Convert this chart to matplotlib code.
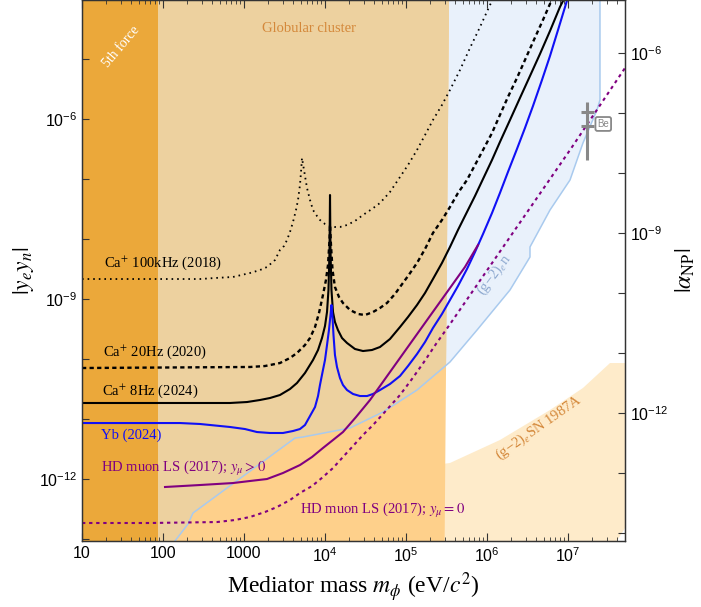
import numpy as np
import matplotlib
matplotlib.use("Agg")
import matplotlib.pyplot as plt
from matplotlib.patches import Polygon
from matplotlib.ticker import FixedLocator, FuncFormatter, NullFormatter, LogLocator

plt.rcParams['font.family'] = ['Liberation Sans', 'DejaVu Sans']
plt.rcParams['mathtext.fontset'] = 'stix'

# axis ranges (log10)
logm_lim = [1.0, 7.704]
logy_lim = [-13.033, -4.017]

# Ca+ 100kHz (2018), dotted
ca100_logm = [1.0, 2.457, 2.642, 2.864, 3.074, 3.198, 3.284, 3.383, 3.444, 3.494, 3.531, 3.568, 3.605,
              3.642, 3.667, 3.691, 3.704, 3.716, 3.741, 3.778, 3.815, 3.852, 3.901, 3.938, 4.0, 4.062,
              4.123, 4.185, 4.272, 4.370, 4.469, 4.580, 4.679, 4.802, 4.926, 5.025, 5.136, 5.235, 5.333,
              5.444, 5.543, 5.667, 5.790, 5.914, 6.037, 6.099]
ca100_logy = [-8.667, -8.667, -8.65, -8.633, -8.567, -8.517, -8.467, -8.35, -8.183, -8.117, -8.017, -7.883,
              -7.717, -7.517, -7.35, -7.1, -6.883, -6.65, -6.85, -7.15, -7.35, -7.517, -7.617, -7.683,
              -7.75, -7.783, -7.8, -7.8, -7.767, -7.7, -7.6, -7.5, -7.4, -7.217, -6.967, -6.767, -6.517,
              -6.267, -6.017, -5.767, -5.517, -5.183, -4.817, -4.467, -4.1, -3.95]

# Ca+ 20Hz (2020), dashed
ca20_logm = [1.0, 3.074, 3.259, 3.444, 3.568, 3.654, 3.753, 3.815, 3.877, 3.926, 3.975, 4.012, 4.037,
             4.056, 4.062, 4.074, 4.093, 4.123, 4.173, 4.222, 4.309, 4.407, 4.494, 4.593, 4.679, 4.765,
             4.864, 4.926, 5.025, 5.136, 5.235, 5.333, 5.444, 5.543, 5.642, 5.753, 5.852, 5.951, 6.062,
             6.160, 6.259, 6.370, 6.469, 6.568, 6.691, 6.815]
ca20_logy = [-10.15, -10.133, -10.117, -10.067, -9.983, -9.9, -9.767, -9.65, -9.467, -9.233, -8.933,
             -8.683, -8.433, -8.017, -7.767, -8.1, -8.517, -8.8, -8.967, -9.067, -9.183, -9.25, -9.267,
             -9.217, -9.15, -9.067, -8.917, -8.8, -8.617, -8.4, -8.167, -7.9, -7.683, -7.467, -7.233,
             -7.017, -6.767, -6.517, -6.233, -5.933, -5.633, -5.317, -5.017, -4.717, -4.35, -3.967]

# Ca+ 8Hz (2024), solid
ca8_logm = [1.0, 2.827, 3.037, 3.198, 3.321, 3.444, 3.568, 3.654, 3.753, 3.852, 3.914, 3.963, 4.0, 4.025,
            4.043, 4.056, 4.062, 4.068, 4.080, 4.099, 4.123, 4.160, 4.210, 4.272, 4.370, 4.469, 4.580,
            4.679, 4.802, 4.926, 5.025, 5.136, 5.235, 5.333, 5.444, 5.543, 5.642, 5.753, 5.852, 5.951,
            6.062, 6.160, 6.284, 6.407, 6.531, 6.654, 6.778, 6.901, 6.975]
ca8_logy = [-10.733, -10.733, -10.717, -10.683, -10.65, -10.6, -10.5, -10.4, -10.233, -10.017, -9.85,
            -9.65, -9.45, -9.217, -8.85, -8.183, -7.267, -8.183, -8.85, -9.217, -9.383, -9.517, -9.65,
            -9.733, -9.833, -9.867, -9.85, -9.8, -9.667, -9.467, -9.3, -9.1, -8.9, -8.667, -8.4, -8.133,
            -7.85, -7.55, -7.283, -7.0, -6.683, -6.383, -6.017, -5.65, -5.283, -4.917, -4.533, -4.133, -3.933]

# Yb (2024)
yb_logm = [1.0, 2.210, 2.457, 2.827, 3.012, 3.160, 3.321, 3.481, 3.605, 3.691, 3.753, 3.815, 3.877, 3.914,
           3.938, 3.975, 4.0, 4.025, 4.049, 4.068, 4.080, 4.093, 4.105, 4.123, 4.148, 4.185, 4.222, 4.272,
           4.346, 4.432, 4.519, 4.593, 4.679, 4.802, 4.926, 5.025, 5.136, 5.235, 5.333, 5.444, 5.543,
           5.642, 5.753, 5.852, 5.951, 6.062, 6.160, 6.259, 6.370, 6.469, 6.568, 6.679, 6.778, 6.877,
           6.975, 7.012]
yb_logy = [-11.067, -11.067, -11.083, -11.133, -11.167, -11.217, -11.233, -11.233, -11.2, -11.167, -11.1,
           -10.95, -10.8, -10.617, -10.433, -10.183, -10.017, -9.767, -9.517, -9.267, -9.1, -9.317, -9.6,
           -9.933, -10.133, -10.317, -10.433, -10.517, -10.583, -10.617, -10.617, -10.583, -10.517,
           -10.417, -10.283, -10.117, -9.917, -9.717, -9.483, -9.25, -9.017, -8.783, -8.5, -8.217, -7.917,
           -7.567, -7.233, -6.883, -6.5, -6.15, -5.783, -5.35, -4.95, -4.517, -4.083, -3.917]

# HD muon LS (2017), y_mu > 0
hdp_logm = [2.025, 2.457, 2.864, 3.074, 3.284, 3.481, 3.691, 3.840, 3.975, 4.099, 4.222, 4.383, 4.556,
            4.741, 4.926, 5.111, 5.296, 5.543, 5.728, 5.889]
hdp_logy = [-12.133, -12.1, -12.067, -12.033, -12.0, -11.9, -11.767, -11.633, -11.483, -11.35, -11.217,
            -10.967, -10.683, -10.333, -9.983, -9.633, -9.283, -8.817, -8.467, -8.1]

# HD muon LS (2017), y_mu = 0
hd0_logm = [1.0, 1.840, 2.667, 2.889, 3.074, 3.259, 3.407, 3.568, 3.691, 3.840, 3.975, 4.099, 4.222,
            4.346, 4.469, 4.593, 4.716, 4.827, 4.926, 5.074, 5.222, 5.370, 5.519, 6.284, 7.025, 7.704]
hd0_logy = [-12.733, -12.733, -12.717, -12.683, -12.633, -12.55, -12.467, -12.35, -12.233, -12.117,
            -11.967, -11.817, -11.633, -11.45, -11.267, -11.1, -10.917, -10.75, -10.6, -10.333, -10.05,
            -9.75, -9.467, -7.967, -6.517, -5.15]

# (g-2)_e n bound (lower edge of blue region)
g2n_logm = [2.148, 2.309, 2.370, 3.630, 3.728, 4.309, 4.716, 5.136, 5.543, 5.877, 6.284, 6.531, 6.531,
            6.778, 7.025, 7.185, 7.358, 7.395, 7.395]
g2n_logy = [-13.033, -12.75, -12.567, -11.317, -11.3, -11.15, -10.883, -10.517, -10.05, -9.517, -8.85,
            -8.3, -8.133, -7.517, -7.017, -6.4, -5.85, -5.683, -4.017]

# (g-2)_e SN 1987A (upper edge)
sn_logm = [1.0, 3.074, 4.309, 5.543, 6.160, 6.778, 7.185, 7.519, 7.704]
sn_logy = [-12.1, -12.05, -11.95, -11.733, -11.35, -10.85, -10.483, -10.067, -10.067]
sn_corner_logm = [7.704, 7.605]
sn_corner_logy = [-12.817, -13.033]

# regions in mass
fifth_force_max = 87.0
globular_min = 87.0
globular_max_top = 3.4e5
globular_max_bottom = 3.0e5

# Be point
be_mass = 1.72e7
be_range = [10**-6.683, 10**-5.717]
be_caps = [10**-5.883, 10**-6.117]

c_fifth = '#EBA83A'
c_glob = '#FED08B'
c_tan = '#EDD19F'
c_blue_fill = '#E9F1FB'
c_blue_edge = '#A9CAEE'
c_sn = '#FEEBCA'
c_purple = '#800080'
c_blue = '#1010F5'
c_orange_txt = '#D4883A'

fig = plt.figure(figsize=(7.01, 6.07), dpi=100)
ax = fig.add_axes([82 / 701, 66 / 607, 543 / 701, 541 / 607])
ax.set_xscale('log')
ax.set_yscale('log')
xmin, xmax = 10**logm_lim[0], 10**logm_lim[1]
ymin, ymax = 10**logy_lim[0], 10**logy_lim[1]
ax.set_xlim(xmin, xmax)
ax.set_ylim(ymin, ymax)

def tp(lm, ly):
    return 10**np.array(lm), 10**np.array(ly)

# SN 1987A region
sx, sy = tp(sn_logm + sn_corner_logm, sn_logy + sn_corner_logy)
sn_poly = list(zip(sx, sy)) + [(xmin, ymin)]
ax.add_patch(Polygon(sn_poly, closed=True, facecolor=c_sn, edgecolor='none', zorder=1))

# (g-2)_e n region (blue)
gx, gy = tp(g2n_logm, g2n_logy)
blue_poly = [(xmin, ymin)] + list(zip(gx, gy)) + [(xmin, ymax * 1.5)]
ax.add_patch(Polygon(blue_poly, closed=True, facecolor=c_blue_fill, edgecolor='none', zorder=1.1))

# globular cluster region
glob_poly = [(globular_min, ymin), (globular_max_bottom, ymin), (globular_max_top, ymax), (globular_min, ymax)]
gp = Polygon(glob_poly, closed=True, facecolor=c_glob, edgecolor='none', zorder=1.2)
ax.add_patch(gp)
over = Polygon(blue_poly, closed=True, facecolor=c_tan, edgecolor='none', zorder=1.3)
ax.add_patch(over)
over.set_clip_path(gp)

# 5th force
ax.axvspan(xmin, fifth_force_max, color=c_fifth, lw=0, zorder=1.4)

# blue edge line
ax.plot(gx, gy, color=c_blue_edge, lw=1.1, zorder=2)

# curves
x, y = tp(ca100_logm, ca100_logy)
ax.plot(x, y, color='black', lw=1.3, ls=(0, (0.9, 2.2)), zorder=3)
x, y = tp(ca20_logm, ca20_logy)
ax.plot(x, y, color='black', lw=1.7, ls=(0, (1.8, 1.4)), zorder=3)
x, y = tp(ca8_logm, ca8_logy)
ax.plot(x, y, color='black', lw=1.5, zorder=3)
x, y = tp(yb_logm, yb_logy)
ax.plot(x, y, color=c_blue, lw=1.5, zorder=3)
x, y = tp(hdp_logm, hdp_logy)
ax.plot(x, y, color=c_purple, lw=1.5, zorder=3)
x, y = tp(hd0_logm, hd0_logy)
ax.plot(x, y, color=c_purple, lw=1.5, ls=(0, (1.6, 1.8)), zorder=3)

# Be point
ax.plot([be_mass, be_mass], be_range, color='#888888', lw=2.2, zorder=4, solid_capstyle='butt')
for yc in be_caps:
    ax.plot([be_mass / 10**0.08, be_mass * 10**0.08], [yc, yc], color='#888888', lw=2.2, zorder=4,
            solid_capstyle='butt')
ax.text(be_mass * 10**0.2, 10**-6.083, 'Be', fontsize=7, color='#888888', ha='center', va='center',
        bbox=dict(boxstyle='round,pad=0.2', fc='white', ec='#888888', lw=1.3), zorder=5)

# text
serif = 'Liberation Serif'
ax.text(10**1.481, 10**-4.8, '5th force', family=serif, fontsize=10, color='white', rotation=50,
        ha='center', va='center', zorder=6)
ax.text(10**3.802, 10**-4.5, 'Globular cluster', family=serif, fontsize=10.5, color=c_orange_txt,
        ha='center', va='center', zorder=6)
ax.text(10**1.272, 10**-8.4, 'Ca$^{+}$ 100kHz (2018)', family=serif, fontsize=10.5, ha='left', va='center', zorder=6)
ax.text(10**1.26, 10**-9.883, 'Ca$^{+}$ 20Hz (2020)', family=serif, fontsize=10.5, ha='left', va='center', zorder=6)
ax.text(10**1.247, 10**-10.533, 'Ca$^{+}$ 8Hz (2024)', family=serif, fontsize=10.5, ha='left', va='center', zorder=6)
ax.text(10**1.235, 10**-11.267, 'Yb (2024)', family=serif, fontsize=10.5, color=c_blue, ha='left', va='center', zorder=6)
ax.text(10**1.235, 10**-11.817, 'HD muon LS (2017); $y_\\mu > 0$', family=serif, fontsize=10.5, color=c_purple,
        ha='left', va='center', zorder=6)
ax.text(10**3.691, 10**-12.517, 'HD muon LS (2017); $y_\\mu = 0$', family=serif, fontsize=10.5, color=c_purple,
        ha='left', va='center', zorder=6)
ax.text(10**6.086, 10**-8.6, '(g\u22122)$_e$n', family=serif, fontsize=10.5, color='#8FAAD0', rotation=53,
        ha='center', va='center', zorder=6)
ax.text(10**6.642, 10**-11.15, '(g\u22122)$_e$SN 1987A', family=serif, fontsize=10.5, color=c_orange_txt,
        rotation=35, ha='center', va='center', zorder=6)

# axes styling
def xfmt(v, pos):
    e = int(round(np.log10(v)))
    if e <= 3:
        return str(int(round(v)))
    return r'$\mathdefault{10^{%d}}$' % e

def yfmt(v, pos):
    e = int(round(np.log10(v)))
    return r'$\mathdefault{10^{%d}}$' % e if e % 3 == 0 else ''

ax.xaxis.set_major_locator(FixedLocator([10**k for k in range(1, 8)]))
ax.xaxis.set_major_formatter(FuncFormatter(xfmt))
ax.xaxis.set_minor_locator(LogLocator(base=10, subs=np.arange(2, 10), numticks=20))
ax.xaxis.set_minor_formatter(NullFormatter())

ax.yaxis.set_major_locator(FixedLocator([10.0**k for k in range(-13, -3)]))
ax.yaxis.set_major_formatter(FuncFormatter(yfmt))
ax.yaxis.set_minor_locator(FixedLocator([]))

ax.tick_params(axis='both', which='both', direction='in', top=True, labelsize=11.5, color='#333333')
ax.tick_params(axis='x', which='major', length=6, width=0.8)
ax.tick_params(axis='x', which='minor', length=3, width=0.6)
ax.tick_params(axis='y', which='major', length=5, width=0.8, right=False)
for s in ax.spines.values():
    s.set_color('#333333')
    s.set_linewidth(0.9)
    s.set_zorder(10)

ax2 = ax.twinx()
ax2.set_yscale('log')
ax2.set_ylim(ymin / (4 * np.pi), ymax / (4 * np.pi))
ax2.yaxis.set_major_locator(FixedLocator([10.0**k for k in range(-15, -4)]))
ax2.yaxis.set_major_formatter(FuncFormatter(yfmt))
ax2.yaxis.set_minor_locator(FixedLocator([]))
ax2.tick_params(axis='y', which='major', direction='in', length=5, width=0.8, labelsize=11.5, color='#333333')
for s in ax2.spines.values():
    s.set_color('#333333')
    s.set_linewidth(0.9)

ax.set_xlabel(r'Mediator mass $m_\phi$ (eV/$c^2$)', family=serif, fontsize=17, labelpad=4)
ax.set_ylabel(r'$|y_e y_n|$', fontsize=17, labelpad=2)
ax2.set_ylabel(r'$|\alpha_{\rm NP}|$', fontsize=17, labelpad=4)

fig.savefig('out.png', dpi=100)
